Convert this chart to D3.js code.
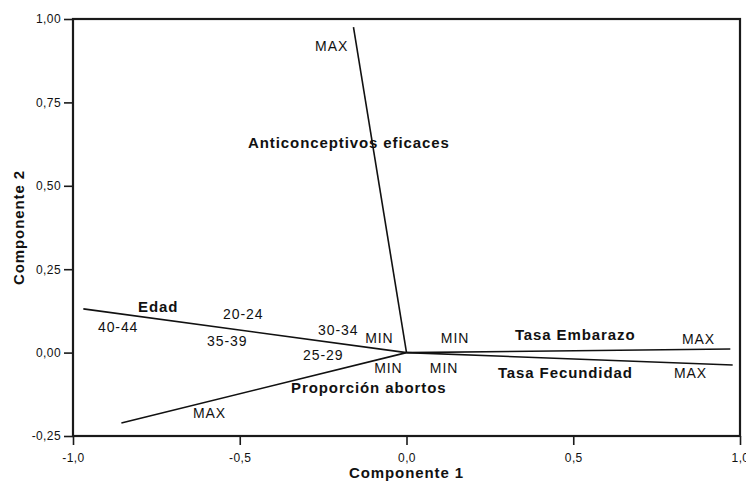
<!DOCTYPE html>
<html>
<head>
<meta charset="utf-8">
<script src="https://cdn.jsdelivr.net/npm/d3@7"></script>
<style>
  html, body { margin: 0; padding: 0; background: #fff; }
  svg { display: block; }
  text { font-family: "Liberation Sans", Arial, Helvetica, sans-serif; fill: #111; }
</style>
</head>
<body>
<svg id="chart" width="746" height="486"></svg>
<script>
// Biplot vectors: each variable runs from the origin to its loading point
const variables = ["Anticonceptivos eficaces", "Edad", "Proporción abortos", "Tasa Embarazo", "Tasa Fecundidad"];
const comp1 = [-0.159, -0.969, -0.855, 0.971, 0.978];
const comp2 = [0.976, 0.131, -0.211, 0.011, -0.037];

// Axis ticks
const xTicks = [-1.0, -0.5, 0.0, 0.5, 1.0];
const yTicks = [-0.25, 0.0, 0.25, 0.5, 0.75, 1.0];

// Text annotations placed in component coordinates
const labelText = ["MAX", "Anticonceptivos eficaces", "Edad", "40-44", "20-24", "35-39", "30-34", "25-29",
                   "MIN", "MIN", "MIN", "MIN", "Proporción abortos", "MAX",
                   "Tasa Embarazo", "MAX", "Tasa Fecundidad", "MAX"];
const labelX = [-0.274, -0.475, -0.805, -0.925, -0.550, -0.598, -0.265, -0.310,
                -0.124, 0.103, -0.097, 0.070, -0.346, -0.640,
                0.325, 0.826, 0.274, 0.802];
const labelY = [0.904, 0.613, 0.122, 0.062, 0.101, 0.020, 0.053, -0.022,
                0.029, 0.029, -0.061, -0.061, -0.121, -0.196,
                0.038, 0.026, -0.076, -0.076];
const labelBold = [false, true, true, false, false, false, false, false,
                   false, false, false, false, true, false,
                   true, false, true, false];

const svg = d3.select("#chart");
const plotL = 73, plotR = 740, plotT = 19, plotB = 436;

const x = d3.scaleLinear().domain([-1, 1]).range([plotL, plotR]);
const y = d3.scaleLinear().domain([-0.25, 1]).range([plotB, plotT]);

// Spanish number style: comma decimal, plain hyphen for negatives
const es = d3.formatLocale({ decimal: ",", thousands: ".", grouping: [3], currency: ["", " €"], minus: "-" });
const fmt = es.format(".2f");
const fmtX = es.format(".1f");

// Frame around the plotting area
svg.append("rect")
  .attr("x", plotL).attr("y", plotT)
  .attr("width", plotR - plotL).attr("height", plotB - plotT)
  .attr("fill", "none").attr("stroke", "#1a1a1a").attr("stroke-width", 2.2);

// Bottom axis
const xAxis = svg.append("g")
  .attr("transform", `translate(0,${plotB})`)
  .call(d3.axisBottom(x).tickValues(xTicks).tickFormat(fmtX).tickSize(9).tickPadding(8));
xAxis.select(".domain").remove();
xAxis.selectAll("line").attr("stroke", "#1a1a1a").attr("stroke-width", 1.6);
xAxis.selectAll("text")
  .attr("font-size", 12).attr("letter-spacing", 0.4)
  .attr("font-family", "Liberation Sans, Arial, sans-serif").attr("fill", "#111");

// Left axis
const yAxis = svg.append("g")
  .attr("transform", `translate(${plotL},0)`)
  .call(d3.axisLeft(y).tickValues(yTicks).tickFormat(fmt).tickSize(9).tickPadding(3));
yAxis.select(".domain").remove();
yAxis.selectAll("line").attr("stroke", "#1a1a1a").attr("stroke-width", 1.6);
yAxis.selectAll("text")
  .attr("font-size", 12).attr("letter-spacing", 0.4)
  .attr("font-family", "Liberation Sans, Arial, sans-serif").attr("fill", "#111");

// Axis titles
svg.append("text")
  .attr("x", (plotL + plotR) / 2).attr("y", 478)
  .attr("text-anchor", "middle")
  .attr("font-size", 15).attr("font-weight", "bold").attr("letter-spacing", 0.9)
  .text("Componente 1");

svg.append("text")
  .attr("transform", `translate(24,${(plotT + plotB) / 2}) rotate(-90)`)
  .attr("text-anchor", "middle")
  .attr("font-size", 15).attr("font-weight", "bold").attr("letter-spacing", 0.9)
  .text("Componente 2");

// Variable vectors
svg.append("g").selectAll("line")
  .data(variables.map((v, i) => ({ name: v, c1: comp1[i], c2: comp2[i] })))
  .join("line")
  .attr("x1", x(0)).attr("y1", y(0))
  .attr("x2", d => x(d.c1)).attr("y2", d => y(d.c2))
  .attr("stroke", "#111").attr("stroke-width", 1.6);

// Annotations
svg.append("g").selectAll("text")
  .data(labelText.map((t, i) => ({ t, lx: labelX[i], ly: labelY[i], b: labelBold[i] })))
  .join("text")
  .attr("x", d => x(d.lx)).attr("y", d => y(d.ly))
  .attr("font-size", d => d.b ? 15 : 14)
  .attr("font-weight", d => d.b ? "bold" : "normal")
  .attr("letter-spacing", 0.9)
  .text(d => d.t);
</script>
</body>
</html>
